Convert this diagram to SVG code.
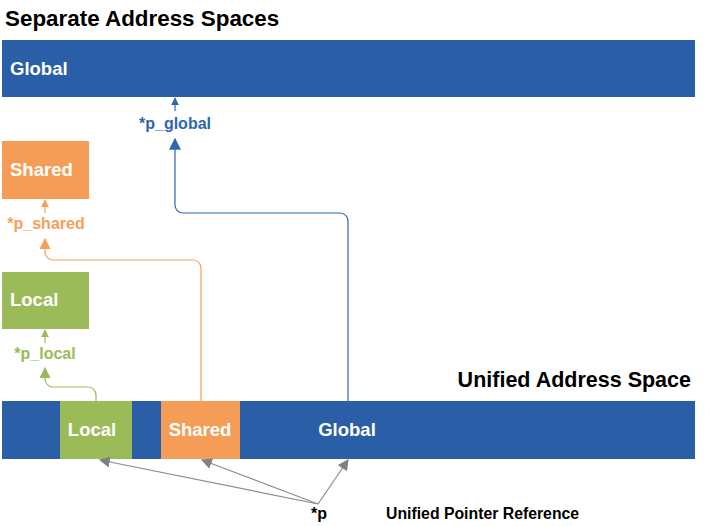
<svg xmlns="http://www.w3.org/2000/svg" width="720" height="526" viewBox="0 0 720 526">
<style>
text{font-family:"Liberation Sans",Arial,sans-serif;font-weight:bold}
.title{fill:#000}
.wt{fill:#fff;font-size:18.5px}
.lbl{font-size:16px}
.blue{fill:#2A5EA6}
.orange{fill:#F59D56}
.green{fill:#9BBB59}
.ln{fill:none;stroke-width:1.2}
</style>
<defs>
<marker id="ab" viewBox="0 0 10 10" refX="9" refY="5" markerWidth="8" markerHeight="8" markerUnits="userSpaceOnUse" orient="auto"><path d="M0,0L10,5L0,10z" fill="#2F66B0"/></marker>
<marker id="ab2" viewBox="0 0 10 10" refX="9" refY="5" markerWidth="12" markerHeight="12" markerUnits="userSpaceOnUse" orient="auto"><path d="M0,0L10,5L0,10z" fill="#2F66B0"/></marker>
<marker id="ao" viewBox="0 0 10 10" refX="9" refY="5" markerWidth="8" markerHeight="8" markerUnits="userSpaceOnUse" orient="auto"><path d="M0,0L10,5L0,10z" fill="#F5A05A"/></marker>
<marker id="ao2" viewBox="0 0 10 10" refX="9" refY="5" markerWidth="11" markerHeight="11" markerUnits="userSpaceOnUse" orient="auto"><path d="M0,0L10,5L0,10z" fill="#F5A05A"/></marker>
<marker id="ag" viewBox="0 0 10 10" refX="9" refY="5" markerWidth="8" markerHeight="8" markerUnits="userSpaceOnUse" orient="auto"><path d="M0,0L10,5L0,10z" fill="#9BBB59"/></marker>
<marker id="ag2" viewBox="0 0 10 10" refX="9" refY="5" markerWidth="11" markerHeight="11" markerUnits="userSpaceOnUse" orient="auto"><path d="M0,0L10,5L0,10z" fill="#9BBB59"/></marker>
<marker id="ay" viewBox="0 0 10 10" refX="9" refY="5" markerWidth="11" markerHeight="11" markerUnits="userSpaceOnUse" orient="auto"><path d="M0,0L10,5L0,10z" fill="#808080"/></marker>
</defs>
<text class="title" x="5" y="26" font-size="22.4">Separate Address Spaces</text>
<text class="title" x="691" y="387" font-size="21.5" text-anchor="end">Unified Address Space</text>
<g id="global-space"><rect class="blue" x="2" y="40" width="693" height="57"/><text class="wt" x="10" y="75">Global</text></g>
<g id="shared-space"><rect class="orange" x="2" y="141" width="87" height="58"/><text class="wt" x="10" y="176">Shared</text></g>
<g id="local-space"><rect class="green" x="2" y="272" width="87" height="57"/><text class="wt" x="10" y="306">Local</text></g>
<g id="unified-space">
<rect class="blue" x="2" y="401" width="693" height="58"/>
<rect class="green" x="60" y="401" width="72" height="58"/>
<rect class="orange" x="161" y="401" width="79" height="58"/>
<text class="wt" x="92" y="436" text-anchor="middle">Local</text>
<text class="wt" x="200" y="436" text-anchor="middle">Shared</text>
<text class="wt" x="347" y="436" text-anchor="middle">Global</text>
</g>
<g id="pointer"><text x="319" y="519" font-size="16" text-anchor="middle">*p</text><text x="386" y="519" font-size="15.8">Unified Pointer Reference</text></g>
<g id="labels">
<text class="lbl" x="175" y="129" text-anchor="middle" fill="#2F66B0">*p_global</text>
<text class="lbl" x="46" y="229" text-anchor="middle" fill="#F5A05A">*p_shared</text>
<text class="lbl" x="45" y="359" text-anchor="middle" fill="#9BBB59">*p_local</text>
</g>
<g id="connectors">
<path class="ln" stroke="#2F66B0" d="M175,111V98" marker-end="url(#ab)"/>
<path class="ln" stroke="#2F66B0" d="M348,401V221a8,8 0 0 0 -8,-8H183a8,8 0 0 1 -8,-8V139" marker-end="url(#ab2)"/>
<path class="ln" stroke="#F5A05A" d="M45,213V200" marker-end="url(#ao)"/>
<path class="ln" stroke="#F5A05A" d="M201,401V268a8,8 0 0 0 -8,-8H53a8,8 0 0 1 -8,-8V239" marker-end="url(#ao2)"/>
<path class="ln" stroke="#9BBB59" d="M45,343V330" marker-end="url(#ag)"/>
<path class="ln" stroke="#9BBB59" d="M96,401V395a8,8 0 0 0 -8,-8H53a8,8 0 0 1 -8,-8V368" marker-end="url(#ag2)"/>
<path class="ln" stroke="#8C8C8C" d="M318,504L100,460" marker-end="url(#ay)"/>
<path class="ln" stroke="#8C8C8C" d="M318,504L202,460" marker-end="url(#ay)"/>
<path class="ln" stroke="#8C8C8C" d="M318,504L348,460" marker-end="url(#ay)"/>
</g>
</svg>
